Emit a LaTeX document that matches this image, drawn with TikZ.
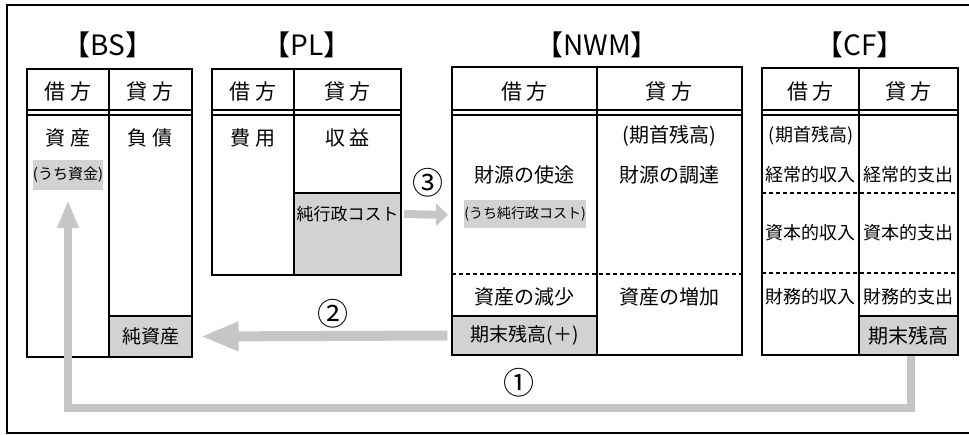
\documentclass[tikz,border=0pt]{standalone}
\usepackage{fontspec}
\setmainfont{Noto Sans CJK JP}
\usetikzlibrary{arrows.meta,calc}

\begin{document}
\begin{tikzpicture}[x=1pt,y=-1pt,
    tblline/.style={line width=1.8pt},
    rule/.style={line width=1.1pt},
    cut/.style={line width=1.4pt,dash pattern=on 4pt off 3pt},
    greybox/.style={fill=gray!35,draw=black,line width=1.2pt,inner sep=0pt},
    tag/.style={fill=gray!35,inner sep=0pt,font=\fontsize{15}{16}\selectfont},
    title/.style={font=\fontsize{28}{30}\selectfont},
    hd/.style={font=\fontsize{21}{23}\selectfont},
    txt/.style={font=\fontsize{20}{22}\selectfont},
    cftxt/.style={font=\fontsize{18}{20}\selectfont},
    num/.style={font=\fontsize{31}{32}\selectfont},
    fat/.style={color=gray!45}]
    \useasboundingbox (0,0) rectangle (969,435);
    % The outer frame
    \draw[line width=2.5pt] (969,5) -- (7,5) -- (7,433) -- (969,433);

    % BS
    \node[title] (bstitle) at (108,45) {【BS】};
    \draw[tblline] (27,69) rectangle (192,357);
    \draw[rule] (109,69) -- (109,357);
    \draw[rule] (27,110) -- (192,110);
    \draw[rule] (27,115) -- (192,115);
    \node[hd] (bsdr) at (68,92) {借 方};
    \node[hd] (bscr) at (150,92) {貸 方};
    \node[txt] (bsasset) at (68,138) {資 産};
    \node[txt] (bsdebt) at (150,138) {負 債};
    \node[tag,minimum width=68pt,minimum height=30pt] (bscash) at (68,175) {(うち資金)};
    \node[greybox,minimum width=83pt,minimum height=41pt,font=\fontsize{19}{20}\selectfont] (bsnet) at (150.5,336.5) {純資産};

    % PL
    \node[title] (pltitle) at (307,45) {【PL】};
    \draw[tblline] (212,69) rectangle (401,275);
    \draw[rule] (294,69) -- (294,275);
    \draw[rule] (212,110) -- (401,110);
    \draw[rule] (212,115) -- (401,115);
    \node[hd] (pldr) at (253,92) {借 方};
    \node[hd] (plcr) at (347.5,92) {貸 方};
    \node[txt] (plexp) at (253,138) {費 用};
    \node[txt] (plrev) at (347.5,138) {収 益};
    \node[greybox,minimum width=107pt,minimum height=82pt] (plbox) at (347.5,234) {};
    \node[inner sep=0pt,minimum width=107pt,font=\fontsize{17}{18}\selectfont] (plcost) at (347.5,214) {純行政コスト};

    % NWM
    \node[title] (nwmtitle) at (597,45) {【NWM】};
    \draw[tblline] (452,67) rectangle (742,355);
    \draw[rule] (597,67) -- (597,355);
    \draw[rule] (452,110) -- (742,110);
    \draw[rule] (452,115) -- (742,115);
    \draw[cut] (452,274) -- (742,274);
    \coordinate (nwmin) at (448,215);
    \node[hd] (nwmdr) at (524.5,92) {借 方};
    \node[hd] (nwmcr) at (669,92) {貸 方};
    \node[txt] (nwmopen) at (669,136) {(期首残高)};
    \node[txt] (nwmuse) at (524.5,175) {財源の使途};
    \node[txt] (nwmraise) at (669,175) {財源の調達};
    \node[tag,minimum width=114pt,minimum height=28pt,font=\fontsize{14}{15}\selectfont] (nwmcost) at (525,214) {(うち純行政コスト)};
    \node[txt] (nwmdec) at (524.5,297) {資産の減少};
    \node[txt] (nwminc) at (669,297) {資産の増加};
    \node[greybox,minimum width=145pt,minimum height=39pt,font=\fontsize{19}{20}\selectfont] (nwmend) at (524.5,335.5) {期末残高(＋)};

    % CF
    \node[title] (cftitle) at (860,45) {【CF】};
    \draw[tblline] (762,68) rectangle (958,355);
    \draw[rule] (859,68) -- (859,355);
    \draw[rule] (762,110) -- (958,110);
    \draw[rule] (762,115) -- (958,115);
    \draw[cut] (762,193) -- (958,193);
    \draw[cut] (762,273) -- (958,273);
    \node[hd] (cfdr) at (810.5,92) {借 方};
    \node[hd] (cfcr) at (908.5,92) {貸 方};
    \node[cftxt] (cfopen) at (811,136) {(期首残高)};
    \node[cftxt] (cfopin) at (810.5,175) {経常的収入};
    \node[cftxt] (cfopout) at (908.5,175) {経常的支出};
    \node[cftxt] (cfcapin) at (810.5,233) {資本的収入};
    \node[cftxt] (cfcapout) at (908.5,233) {資本的支出};
    \node[cftxt] (cffinin) at (810.5,297) {財務的収入};
    \node[cftxt] (cffinout) at (908.5,297) {財務的支出};
    \node[greybox,minimum width=99pt,minimum height=39pt,font=\fontsize{20}{21}\selectfont] (cfend) at (908.5,335.5) {期末残高};

    % The flows
    \draw[fat,line width=8pt,-{Triangle[width=22pt,length=12pt]}] ([xshift=3pt]plcost.east) -- (nwmin);
    \draw[fat,line width=10pt,-{Triangle[width=27pt,length=38pt]}] ([xshift=-4pt]nwmend.west) -- ([xshift=8pt]bsnet.east);
    \draw[fat,line width=8pt,-{Triangle[width=20pt,length=28pt]}] ([xshift=2.5pt]cfend.south) -- ++(0,52) -| ([yshift=-10pt]bscash.south);
    \node[num] (n3) at (428,183) {③};
    \node[num] (n2) at (333,314) {②};
    \node[num] (n1) at (519,383) {①};
\end{tikzpicture}
\end{document}
